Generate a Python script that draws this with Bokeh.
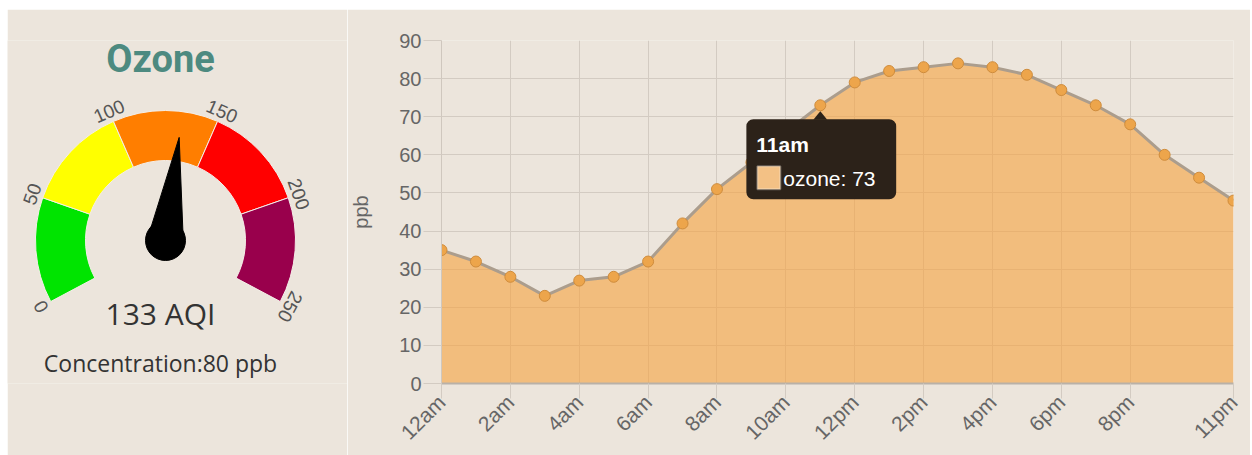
import math
from bokeh.plotting import figure
from bokeh.layouts import row, column
from bokeh.models import Range1d, FixedTicker, BoxAnnotation, PolyAnnotation, Label, Spacer
from bokeh.core.properties import value
from bokeh.embed import file_html
from bokeh.resources import INLINE

BG = "#ece5dc"

# ---------------- data ----------------
hour_labels = ["12am", "1am", "2am", "3am", "4am", "5am", "6am", "7am", "8am", "9am", "10am", "11am",
               "12pm", "1pm", "2pm", "3pm", "4pm", "5pm", "6pm", "7pm", "8pm", "9pm", "10pm", "11pm"]
hours = list(range(24))
ozone = [35, 32, 28, 23, 27, 28, 32, 42, 51, 58, 66, 73, 79, 82, 83, 84, 83, 81, 77, 73, 68, 60, 54, 48]
tick_hours = [0, 2, 4, 6, 8, 10, 12, 14, 16, 18, 20, 23]
y_ticks = [0, 10, 20, 30, 40, 50, 60, 70, 80, 90]

gauge_bounds = [0, 50, 100, 150, 200, 250]
gauge_colors = ["#00e400", "#ffff00", "#ff7e00", "#ff0000", "#99004c"]
aqi_value = 133
concentration = 80
gauge_title = "Ozone"
series_name = "ozone"
tooltip_index = 11

# ---------------- shared layout ----------------
H = 446
MT, MB = 31, 72

# ---------------- gauge ----------------
G_W = 340
g = figure(width=G_W, height=H, x_range=Range1d(0, G_W), y_range=Range1d(MB, H - MT),
           output_backend="svg", toolbar_location=None,
           min_border_left=0, min_border_right=0, min_border_top=MT, min_border_bottom=MB,
           x_axis_location=None, y_axis_location=None)
g.grid.visible = False
g.outline_line_color = None
g.background_fill_color = BG
g.border_fill_color = BG

CX, CY = 158, 215
R_IN, R_OUT = 80, 130
START, SWEEP = 208.0, 236.0
vmax = gauge_bounds[-1]


def ang(v):
    return START - v / vmax * SWEEP


g.annular_wedge(x=CX, y=CY, inner_radius=R_IN, outer_radius=R_OUT,
                start_angle=[ang(b) for b in gauge_bounds[1:]],
                end_angle=[ang(b) for b in gauge_bounds[:-1]],
                start_angle_units="deg", end_angle_units="deg",
                fill_color=gauge_colors, line_color="#f4eee8", line_width=1)

lab_r = 141
g.text(x=[CX + lab_r * math.cos(math.radians(ang(b))) for b in gauge_bounds],
       y=[CY + lab_r * math.sin(math.radians(ang(b))) for b in gauge_bounds],
       text=[str(b) for b in gauge_bounds],
       angle=[math.radians(ang(b) - 90) for b in gauge_bounds],
       text_align="center", text_baseline="middle", text_font=value("Liberation Sans"),
       text_font_size="19px", text_color="#555555")

th = math.radians(ang(aqi_value))
tip_r, base_r = 104, 18
nx = [CX + tip_r * math.cos(th), CX + base_r * math.cos(th + math.pi / 2), CX + base_r * math.cos(th - math.pi / 2)]
ny = [CY + tip_r * math.sin(th), CY + base_r * math.sin(th + math.pi / 2), CY + base_r * math.sin(th - math.pi / 2)]
g.patch(nx, ny, fill_color="black", line_color="black")
g.circle(x=[CX], y=[CY], radius=20, fill_color="black", line_color="black")

g.add_layout(Label(x=153, y=397, text=gauge_title, text_align="center", text_baseline="middle",
                   text_font="Roboto", text_font_size="38px", text_font_style="bold",
                   text_color="#4d8a80"))
g.add_layout(Label(x=153, y=142, text=f"{aqi_value} AQI", text_align="center", text_baseline="middle",
                   text_font="Open Sans", text_font_size="30px", text_color="#333333"))
g.add_layout(Label(x=153, y=93, text=f"Concentration:{concentration} ppb", text_align="center",
                   text_baseline="middle", text_font="Open Sans", text_font_size="23px",
                   text_color="#333333"))

# ---------------- area chart ----------------
C_W = 903
ML, MR = 93, 17
p = figure(width=C_W, height=H, x_range=Range1d(0, 23), y_range=Range1d(0, 90),
           output_backend="svg", toolbar_location=None,
           min_border_left=ML, min_border_right=MR, min_border_top=MT, min_border_bottom=MB)
p.background_fill_color = BG
p.border_fill_color = BG
p.outline_line_color = None

GRID = "#d3cbc2"
p.xaxis.ticker = FixedTicker(ticks=tick_hours, minor_ticks=[])
p.yaxis.ticker = FixedTicker(ticks=y_ticks, minor_ticks=[])
p.xaxis.major_label_overrides = {h: hour_labels[h] for h in tick_hours}
p.xaxis.major_label_orientation = math.pi / 4
for ax in (p.xaxis, p.yaxis):
    ax.major_tick_in = 0
    ax.major_tick_line_color = GRID
    ax.minor_tick_line_color = None
    ax.major_label_text_font = "Liberation Sans"
    ax.major_label_text_color = "#666666"
p.xaxis.major_tick_out = 15
p.yaxis.major_tick_out = 18
p.xaxis.major_label_text_font_size = "21px"
p.yaxis.major_label_text_font_size = "20px"
p.xaxis.major_label_standoff = 0
p.yaxis.major_label_standoff = 2
p.xaxis.axis_line_color = "#b9b1a8"
p.xaxis.axis_line_width = 2
p.yaxis.axis_line_color = "#cfc7be"
p.yaxis.axis_label = "ppb"
p.yaxis.axis_label_text_font = "Liberation Sans"
p.yaxis.axis_label_text_font_size = "20px"
p.yaxis.axis_label_text_font_style = "normal"
p.yaxis.axis_label_text_color = "#666666"
p.yaxis.axis_label_standoff = 24
p.grid.grid_line_color = GRID

p.varea(x=hours, y1=[0] * len(hours), y2=ozone, fill_color="#f6a13d", fill_alpha=0.6)
p.line(hours, ozone, line_color="#ab9d8d", line_width=3)
p.scatter(hours, ozone, size=11, fill_color="#eda54b", line_color="#cf8c3c", line_width=1)

# tooltip
PX_X = (C_W - ML - MR) / 23.0
PX_Y = (H - MT - MB) / 90.0
tx, ty = hours[tooltip_index], ozone[tooltip_index]
TIP_BG = "#2c2219"
p.add_layout(BoxAnnotation(left=tx - 74 / PX_X, right=tx + 76 / PX_X,
                           top=ty - 14 / PX_Y, bottom=ty - 94 / PX_Y,
                           fill_color=TIP_BG, fill_alpha=1, line_color=None, border_radius=7))
p.add_layout(PolyAnnotation(xs=[tx - 7 / PX_X, tx + 7 / PX_X, tx],
                            ys=[ty - 14.5 / PX_Y, ty - 14.5 / PX_Y, ty - 6 / PX_Y],
                            fill_color=TIP_BG, fill_alpha=1, line_color=None))
p.add_layout(BoxAnnotation(left=tx - 63 / PX_X, right=tx - 40 / PX_X,
                           top=ty - 61 / PX_Y, bottom=ty - 84 / PX_Y,
                           fill_color="#f3c185", fill_alpha=1, line_color="white", line_width=2))
p.add_layout(Label(x=tx, y=ty, x_offset=-64, y_offset=-39, text=hour_labels[tooltip_index],
                   text_align="left", text_baseline="middle", text_font="Liberation Sans",
                   text_font_size="21px", text_font_style="bold", text_color="white"))
p.add_layout(Label(x=tx, y=ty, x_offset=-37, y_offset=-73, text=f"{series_name}: {ty}",
                   text_align="left", text_baseline="middle", text_font="Liberation Sans",
                   text_font_size="21px", text_color="white"))

layout = column(Spacer(width=7 + G_W + C_W, height=9),
                row(Spacer(width=7, height=H), g, p))
open("out.html", "w").write(file_html(layout, INLINE))
